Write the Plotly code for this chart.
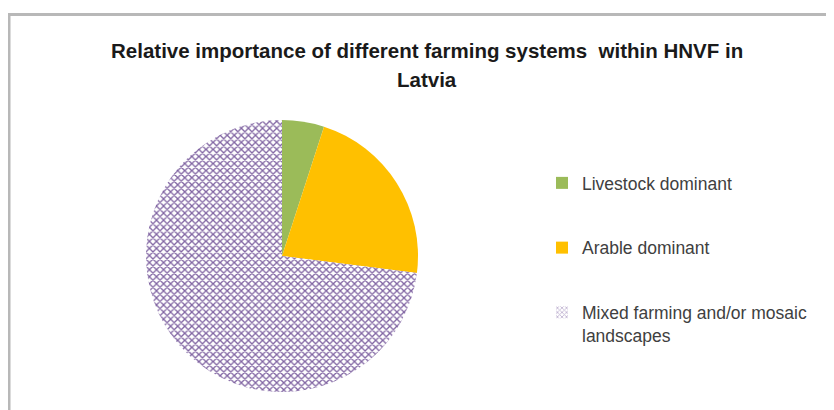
import plotly.graph_objects as go

categories = ["Livestock dominant", "Arable dominant", "Mixed farming and/or mosaic landscapes"]
legend_labels = ["Livestock dominant", "Arable dominant", "Mixed farming and/or mosaic<br>landscapes"]
values = [5, 22, 73]
colors = ["#9BBB59", "#FFC000", "#FFFFFF"]
patterns = ["", "", "x"]
title_lines = ["Relative importance of different farming systems&nbsp; within HNVF in", "Latvia"]

W, H = 834, 410
OFF = 8  # page body margin
PURPLE = "#8064A2"
FONT = "Liberation Sans, Arial, sans-serif"


def px(x):
    return (x - OFF) / W


def py(y):
    return (H - (y - OFF)) / H


fig = go.Figure()

cx, cy, r = 282, 256, 136
fig.add_trace(go.Pie(
    labels=categories,
    values=values,
    sort=False,
    direction="clockwise",
    rotation=0,
    textinfo="none",
    hoverinfo="label+percent",
    showlegend=False,
    marker=dict(
        colors=colors,
        line=dict(width=0),
        pattern=dict(shape=patterns, fgcolor=PURPLE, size=5, solidity=0.45),
    ),
    domain=dict(x=[px(cx - r), px(cx + r)], y=[py(cy + r), py(cy - r)]),
))

# legend entries (no data, legend only)
for i, name in enumerate(legend_labels):
    fig.add_trace(go.Bar(
        x=[None], y=[None], name=name, legendgroup=str(i),
        marker=dict(color=colors[i], line=dict(width=0),
                    pattern=dict(shape=patterns[i], fgcolor=PURPLE, size=4, solidity=0.45)),
        xaxis="x", yaxis="y",
    ))

fig.update_layout(
    width=W, height=H,
    margin=dict(l=0, r=0, t=0, b=0),
    paper_bgcolor="white",
    plot_bgcolor="white",
    xaxis=dict(visible=False, domain=[0.9, 0.91]),
    yaxis=dict(visible=False),
    legend=dict(
        x=px(542), xanchor="left",
        y=py(165), yanchor="top",
        font=dict(family=FONT, size=17.5, color="#404040"),
        tracegroupgap=39,
        valign="top",
        bgcolor="rgba(0,0,0,0)",
    ),
    shapes=[dict(
        type="rect", xref="paper", yref="paper",
        x0=px(9), x1=1.05, y0=-0.1, y1=py(14.5),
        line=dict(color="#B8B8B8", width=3), fillcolor="rgba(0,0,0,0)",
        layer="below",
    )],
    annotations=[
        dict(text="<b>" + title_lines[0] + "</b>", x=px(427), y=py(51),
             xref="paper", yref="paper", showarrow=False, xanchor="center", yanchor="middle",
             font=dict(family=FONT, size=20.5, color="#1a1a1a")),
        dict(text="<b>" + title_lines[1] + "</b>", x=px(427), y=py(79),
             xref="paper", yref="paper", showarrow=False, xanchor="center", yanchor="middle",
             font=dict(family=FONT, size=20.5, color="#1a1a1a")),
    ],
)

fig.write_html("out.html")
